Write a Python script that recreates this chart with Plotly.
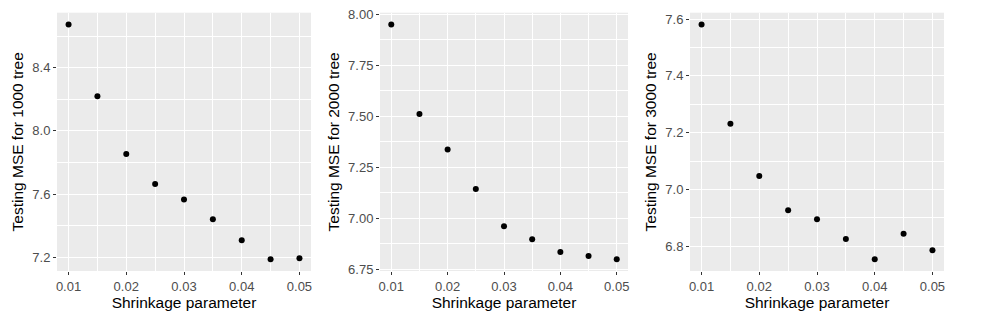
import plotly.graph_objects as go

# Shrinkage values tried for the boosted models
shrinkage = [0.01, 0.015, 0.02, 0.025, 0.03, 0.035, 0.04, 0.045, 0.05]

# Test-set MSE for each number of trees
mse_1000 = [8.674, 8.220, 7.854, 7.663, 7.566, 7.440, 7.308, 7.187, 7.194]
mse_2000 = [7.951, 7.512, 7.338, 7.144, 6.961, 6.897, 6.835, 6.815, 6.799]
mse_3000 = [7.581, 7.231, 7.047, 6.927, 6.895, 6.825, 6.754, 6.844, 6.786]

y_titles = ["Testing MSE for 1000 tree", "Testing MSE for 2000 tree", "Testing MSE for 3000 tree"]
series = [mse_1000, mse_2000, mse_3000]

W, H = 1006, 323
x_domains = [(57, 311), (380, 628), (690, 944)]
y_dom = [1 - 271 / H, 1 - 12.7 / H]
y_fmt = [(".1f", 0.4, 7.2, 0.2), (".2f", 0.25, 6.75, 0.125), (".1f", 0.2, 6.8, 0.1)]

BG = "#EBEBEB"
FONT = "Liberation Sans, Arial, sans-serif"


def expanded(vals, frac=0.05):
    lo, hi = min(vals), max(vals)
    pad = (hi - lo) * frac
    return [lo - pad, hi + pad]


fig = go.Figure()
layout = {}
for i, (vals, ytitle) in enumerate(zip(series, y_titles)):
    n = "" if i == 0 else str(i + 1)
    fig.add_trace(go.Scatter(
        x=shrinkage, y=vals, mode="markers",
        marker=dict(color="black", size=6),
        xaxis="x" + n, yaxis="y" + n, showlegend=False,
    ))
    fmt, dt, t0, mdt = y_fmt[i]
    x0, x1 = x_domains[i]
    common = dict(
        showgrid=True, gridcolor="white", gridwidth=1.1,
        zeroline=False, showline=False,
        ticks="outside", ticklen=3, tickwidth=1, tickcolor="#333333",
        tickfont=dict(family=FONT, size=13, color="#4D4D4D"),
        automargin=False,
    )
    layout["xaxis" + n] = dict(
        common, domain=[x0 / W, x1 / W], anchor="y" + n,
        range=expanded(shrinkage, 0.05), dtick=0.01, tick0=0.01, tickformat=".2f",
        minor=dict(dtick=0.005, tick0=0.01, showgrid=True, gridcolor="white", gridwidth=0.7),
        title=dict(text="Shrinkage parameter", font=dict(family=FONT, size=15.5, color="black"), standoff=4),
    )
    layout["yaxis" + n] = dict(
        common, domain=y_dom, anchor="x" + n,
        range=expanded(vals, 0.05), dtick=dt, tick0=t0, tickformat=fmt,
        minor=dict(dtick=mdt, tick0=t0, showgrid=True, gridcolor="white", gridwidth=0.7),
        title=dict(text=ytitle, font=dict(family=FONT, size=15.5, color="black"), standoff=4),
    )

fig.update_layout(
    width=W, height=H,
    margin=dict(l=0, r=0, t=0, b=0),
    paper_bgcolor="white", plot_bgcolor=BG,
    font=dict(family=FONT),
    **layout,
)

fig.write_html("out.html")
